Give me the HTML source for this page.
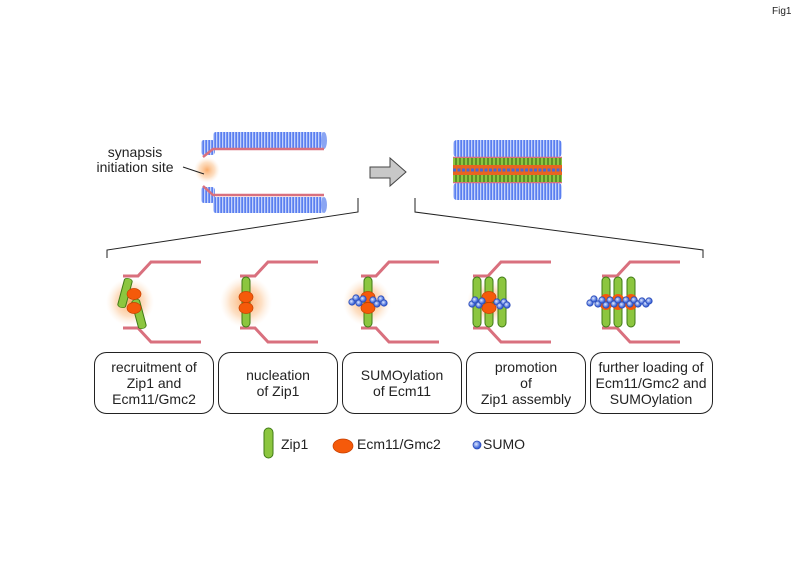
<!DOCTYPE html>
<html><head><meta charset="utf-8"><style>
html,body{margin:0;padding:0;background:#fff}
svg{display:block;font-family:"Liberation Sans",Arial,sans-serif}
</style></head><body>
<svg width="800" height="566" viewBox="0 0 800 566" xmlns="http://www.w3.org/2000/svg">
<defs>
<pattern id="rings" width="3" height="40" patternUnits="userSpaceOnUse">
<rect width="3" height="40" fill="#5a7ef0"/>
<rect x="0" width="1.3" height="40" fill="#c3d2fb"/>
</pattern>
<radialGradient id="halo"><stop offset="0" stop-color="#f9a25a" stop-opacity="0.9"/><stop offset="0.6" stop-color="#fbc089" stop-opacity="0.5"/><stop offset="1" stop-color="#fde2c8" stop-opacity="0"/></radialGradient>
<radialGradient id="sumo" cx="0.4" cy="0.4"><stop offset="0" stop-color="#dfe8ff"/><stop offset="1" stop-color="#3a63d8"/></radialGradient>
<g id="zip"><rect x="-4" y="-25" width="8" height="50" rx="4" fill="#8cc63f" stroke="#3f7a16" stroke-width="1"/></g>
<g id="ecm"><ellipse rx="7" ry="5.5" fill="#f55a0a" stroke="#c63f00" stroke-width="0.7"/></g>
<g id="su"><circle r="3.2" fill="url(#sumo)" stroke="#2b4cb8" stroke-width="0.8"/></g>
<g id="walls" fill="none" stroke="#d9707e" stroke-width="3">
<polyline points="0,276 15,276 28,262 78,262"/>
<polyline points="0,328 15,328 28,342 78,342"/>
</g>
</defs>
<text x="772" y="14" font-size="10" fill="#222">Fig1</text>

<rect x="213" y="132" width="111" height="17" fill="url(#rings)" rx="3"/>
<ellipse cx="324" cy="140.5" rx="3" ry="8.5" fill="#8aa5f3"/>
<rect x="201" y="140" width="14" height="15" fill="url(#rings)" rx="3"/>
<polyline points="203,157 213,149 324,149" fill="none" stroke="#d9707e" stroke-width="2.5"/>
<rect x="213" y="197" width="111" height="16" fill="url(#rings)" rx="3"/>
<ellipse cx="324" cy="205" rx="3" ry="8" fill="#8aa5f3"/>
<rect x="201" y="187" width="14" height="16" fill="url(#rings)" rx="3"/>
<polyline points="203,186 213,195 324,195" fill="none" stroke="#d9707e" stroke-width="2.5"/>
<circle cx="207" cy="170" r="13" fill="url(#halo)"/>
<text x="135" y="157" font-size="14" fill="#222" text-anchor="middle">synapsis</text>
<text x="135" y="172" font-size="14" fill="#222" text-anchor="middle">initiation site</text>
<line x1="183" y1="167" x2="204" y2="174" stroke="#222" stroke-width="1"/>

<polygon points="370,167 390,167 390,158 406,172 390,186 390,178 370,178" fill="#c8c8c8" stroke="#444" stroke-width="1"/>

<rect x="453" y="140" width="109" height="17" fill="url(#rings)" rx="4"/>
<rect x="453" y="183" width="109" height="17" fill="url(#rings)" rx="4"/>
<line x1="453" y1="157.5" x2="562" y2="157.5" stroke="#d9707e" stroke-width="1.5"/>
<line x1="453" y1="182.5" x2="562" y2="182.5" stroke="#d9707e" stroke-width="1.5"/>
<rect x="453" y="158" width="109" height="24" fill="#8cc63f"/>
<g stroke="#2d5a10" stroke-width="1">
<path d="M456 158V182M460 158V182M464 158V182M468 158V182M472 158V182M476 158V182M480 158V182M484 158V182M488 158V182M492 158V182M496 158V182M500 158V182M504 158V182M508 158V182M512 158V182M516 158V182M520 158V182M524 158V182M528 158V182M532 158V182M536 158V182M540 158V182M544 158V182M548 158V182M552 158V182M556 158V182M560 158V182"/>
</g>
<rect x="453" y="165" width="109" height="10" fill="#e86320"/>
<line x1="453" y1="170" x2="562" y2="170" stroke="#4a66d0" stroke-width="3" stroke-dasharray="3,1.5"/>

<polyline points="107,258 107,250 358,212 358,198" fill="none" stroke="#222" stroke-width="1"/>
<polyline points="415,198 415,212 703,250 703,258" fill="none" stroke="#222" stroke-width="1"/>

<circle cx="130" cy="302" r="24" fill="url(#halo)"/>
<use href="#walls" x="123"/>
<use href="#zip" transform="translate(125,293) rotate(15) scale(1,0.6)"/>
<use href="#zip" transform="translate(139,314) rotate(-15) scale(1,0.6)"/>
<use href="#ecm" x="134" y="294"/>
<use href="#ecm" x="134" y="308"/>

<circle cx="246" cy="302" r="26" fill="url(#halo)"/>
<use href="#walls" x="240"/>
<use href="#zip" transform="translate(246,302)"/>
<use href="#ecm" x="246" y="297"/>
<use href="#ecm" x="246" y="308"/>

<circle cx="367" cy="302" r="24" fill="url(#halo)"/>
<use href="#walls" x="361"/>
<use href="#zip" transform="translate(368,302)"/>
<use href="#ecm" x="368" y="297"/>
<use href="#ecm" x="368" y="308"/>
<use href="#su" x="352" y="302"/><use href="#su" x="356" y="298"/><use href="#su" x="359" y="303"/><use href="#su" x="363" y="299"/>
<use href="#su" x="373" y="300"/><use href="#su" x="377" y="304"/><use href="#su" x="381" y="299"/><use href="#su" x="384" y="303"/>

<circle cx="489" cy="302" r="22" fill="url(#halo)"/>
<use href="#walls" x="473"/>
<use href="#zip" transform="translate(477,302)"/>
<use href="#zip" transform="translate(489,302)"/>
<use href="#zip" transform="translate(502,302)"/>
<use href="#ecm" x="489" y="297"/>
<use href="#ecm" x="489" y="308"/>
<use href="#su" x="472" y="304"/><use href="#su" x="475" y="300"/><use href="#su" x="479" y="305"/><use href="#su" x="482" y="301"/>
<use href="#su" x="497" y="302"/><use href="#su" x="500" y="306"/><use href="#su" x="504" y="302"/><use href="#su" x="507" y="305"/>

<use href="#walls" x="602"/>
<use href="#zip" transform="translate(606,302)"/>
<use href="#zip" transform="translate(618,302)"/>
<use href="#zip" transform="translate(631,302)"/>
<ellipse cx="606" cy="302" rx="7" ry="8" fill="#f55a0a"/>
<ellipse cx="618" cy="302" rx="7" ry="8" fill="#f55a0a"/>
<ellipse cx="631" cy="302" rx="7" ry="8" fill="#f55a0a"/>
<use href="#su" x="590" y="303"/><use href="#su" x="594" y="299"/><use href="#su" x="598" y="304"/><use href="#su" x="602" y="300"/>
<use href="#su" x="606" y="305"/><use href="#su" x="610" y="300"/><use href="#su" x="614" y="304"/><use href="#su" x="618" y="300"/>
<use href="#su" x="622" y="305"/><use href="#su" x="626" y="300"/><use href="#su" x="630" y="304"/><use href="#su" x="634" y="300"/>
<use href="#su" x="638" y="304"/><use href="#su" x="642" y="301"/><use href="#su" x="646" y="304"/><use href="#su" x="649" y="301"/>

<g fill="#fff" stroke="#222" stroke-width="1">
<rect x="94.5" y="352.5" width="119" height="61" rx="12"/>
<rect x="218.5" y="352.5" width="119" height="61" rx="12"/>
<rect x="342.5" y="352.5" width="119" height="61" rx="12"/>
<rect x="466.5" y="352.5" width="119" height="61" rx="12"/>
<rect x="590.5" y="352.5" width="122" height="61" rx="12"/>
</g>
<g font-size="14" fill="#222" text-anchor="middle">
<text x="154" y="372">recruitment of</text><text x="154" y="388">Zip1 and</text><text x="154" y="404">Ecm11/Gmc2</text>
<text x="278" y="380">nucleation</text><text x="278" y="396">of Zip1</text>
<text x="402" y="380">SUMOylation</text><text x="402" y="396">of Ecm11</text>
<text x="526" y="372">promotion</text><text x="526" y="388">of</text><text x="526" y="404">Zip1 assembly</text>
<text x="651" y="372">further loading of</text><text x="651" y="388">Ecm11/Gmc2 and</text><text x="651" y="404">SUMOylation</text>
</g>

<rect x="264" y="428" width="9" height="30" rx="4.5" fill="#8cc63f" stroke="#3f7a16" stroke-width="1"/>
<text x="281" y="449" font-size="14" fill="#222">Zip1</text>
<ellipse cx="343" cy="446" rx="10" ry="7" fill="#f55a0a" stroke="#c63f00" stroke-width="0.7"/>
<text x="357" y="449" font-size="14" fill="#222">Ecm11/Gmc2</text>
<circle cx="477" cy="445" r="4" fill="url(#sumo)" stroke="#2b4cb8" stroke-width="0.8"/>
<text x="483" y="449" font-size="14" fill="#222">SUMO</text>
</svg>
</body></html>
